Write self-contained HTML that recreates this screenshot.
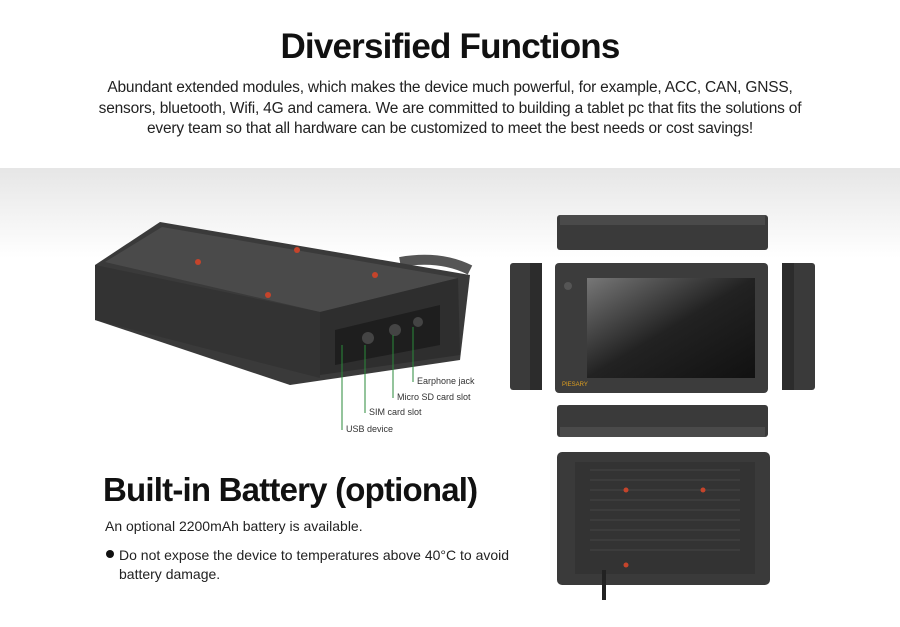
<!DOCTYPE html>
<html><head><meta charset="utf-8"><style>
body{margin:0;width:900px;height:627px;overflow:hidden;background:#fff;font-family:"Liberation Sans",sans-serif;position:relative}
.bg{position:absolute;left:0;top:168px;width:900px;height:90px;background:linear-gradient(#e6e6e6,#fff)}
h1{position:absolute;left:0;width:900px;top:27px;margin:0;text-align:center;font-size:35px;font-weight:bold;color:#111;letter-spacing:-0.8px}
.p{position:absolute;left:0;width:900px;top:78px;text-align:center;font-size:15.5px;line-height:20.5px;color:#222;letter-spacing:-0.2px}
h2{position:absolute;left:103px;top:471px;margin:0;font-size:33px;font-weight:bold;color:#111;letter-spacing:-0.8px}
.t{position:absolute;font-size:14px;color:#222}
.lb{font-family:"Liberation Sans",sans-serif;font-size:9px;fill:#333}
</style></head><body>
<div class="bg"></div>
<h1>Diversified Functions</h1>
<div class="p">Abundant extended modules, which makes the device much powerful, for example, ACC, CAN, GNSS,<br>sensors, bluetooth, Wifi, 4G and camera. We are committed to building a tablet pc that fits the solutions of<br>every team so that all hardware can be customized to meet the best needs or cost savings!</div>
<svg width="900" height="627" style="position:absolute;left:0;top:0">
<path d="M400 262 Q440 255 470 270" stroke="#555" stroke-width="10" fill="none"/>
<polygon points="95,265 160,222 470,275 460,360 290,385 95,320" fill="#3a3a3a"/>
<polygon points="105,262 162,227 458,278 320,312" fill="#4a4a4a"/>
<polygon points="320,312 458,278 460,355 320,375" fill="#2e2e2e"/>
<polygon points="95,265 320,312 320,378 95,320" fill="#333"/>
<polygon points="335,330 440,305 440,345 335,365" fill="#1e1e1e"/>
<circle cx="368" cy="338" r="6" fill="#444"/><circle cx="395" cy="330" r="6" fill="#444"/><circle cx="418" cy="322" r="5" fill="#444"/>
<circle cx="297" cy="250" r="3" fill="#c5442b"/><circle cx="198" cy="262" r="3" fill="#c5442b"/><circle cx="375" cy="275" r="3" fill="#c5442b"/><circle cx="268" cy="295" r="3" fill="#c5442b"/>
<g stroke="#2a8a3a" stroke-width="1" fill="none">
<line x1="342" y1="345" x2="342" y2="430"/><line x1="365" y1="345" x2="365" y2="413"/><line x1="393" y1="335" x2="393" y2="398"/><line x1="413" y1="327" x2="413" y2="382"/>
</g>
<text class="lb" x="417" y="384">Earphone jack</text>
<text class="lb" x="397" y="400">Micro SD card slot</text>
<text class="lb" x="369" y="415">SIM card slot</text>
<text class="lb" x="346" y="432">USB device</text>
<rect x="557" y="215" width="211" height="35" rx="3" fill="#3a3a3a"/><rect x="560" y="215" width="205" height="10" fill="#4a4a4a"/>
<rect x="510" y="263" width="32" height="127" rx="3" fill="#3a3a3a"/><rect x="530" y="263" width="12" height="127" fill="#2c2c2c"/>
<rect x="782" y="263" width="33" height="127" rx="3" fill="#3a3a3a"/><rect x="782" y="263" width="12" height="127" fill="#2c2c2c"/>
<rect x="555" y="263" width="213" height="130" rx="4" fill="#3c3c3c"/>
<defs><linearGradient id="g" x1="0" y1="0" x2="1" y2="1"><stop offset="0" stop-color="#777"/><stop offset="0.5" stop-color="#222"/><stop offset="1" stop-color="#111"/></linearGradient></defs>
<rect x="587" y="278" width="168" height="100" fill="url(#g)"/>
<circle cx="568" cy="286" r="4" fill="#555"/>
<text x="562" y="386" font-size="6" fill="#e0a020" font-family="Liberation Sans">PIESARY</text>
<rect x="557" y="405" width="211" height="32" rx="3" fill="#3a3a3a"/><rect x="560" y="427" width="205" height="10" fill="#4a4a4a"/>
<rect x="557" y="452" width="213" height="133" rx="5" fill="#3a3a3a"/>
<rect x="575" y="462" width="180" height="112" fill="#333"/>
<g stroke="#444" stroke-width="1"><line x1="590" y1="470" x2="740" y2="470"/><line x1="590" y1="480" x2="740" y2="480"/><line x1="590" y1="490" x2="740" y2="490"/><line x1="590" y1="500" x2="740" y2="500"/><line x1="590" y1="510" x2="740" y2="510"/><line x1="590" y1="520" x2="740" y2="520"/><line x1="590" y1="530" x2="740" y2="530"/><line x1="590" y1="540" x2="740" y2="540"/><line x1="590" y1="550" x2="740" y2="550"/></g>
<circle cx="626" cy="490" r="2.5" fill="#c5442b"/><circle cx="703" cy="490" r="2.5" fill="#c5442b"/><circle cx="626" cy="565" r="2.5" fill="#c5442b"/>
<path d="M604 570 L604 600" stroke="#222" stroke-width="4"/>
<circle cx="110" cy="554" r="4" fill="#111"/>
</svg>
<h2>Built-in Battery (optional)</h2>
<div class="t" style="left:105px;top:518px">An optional 2200mAh battery is available.</div>
<div class="t" style="left:119px;top:546px;line-height:19px">Do not expose the device to temperatures above 40°C to avoid<br>battery damage.</div>
</body></html>
